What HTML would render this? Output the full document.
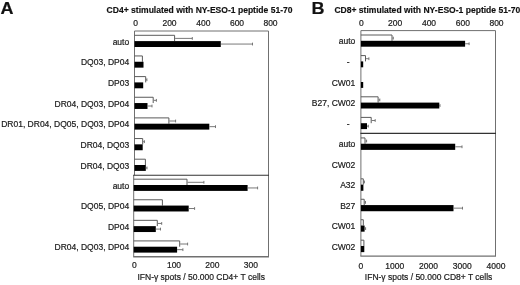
<!DOCTYPE html>
<html><head><meta charset="utf-8"><title>Figure</title>
<style>html,body{margin:0;padding:0;background:#fff}svg{display:block}</style></head>
<body><svg width="520" height="285" viewBox="0 0 520 285" font-family="'Liberation Sans', Arial, sans-serif" font-size="8.5" fill="#1a1a1a">
<rect width="520" height="285" fill="#fff" stroke="none"/>
<g stroke="#1a1a1a" stroke-width="0.2">
<text transform="translate(0.6,13.8) scale(1.06,1)" font-size="17" font-weight="bold" fill="#111">A</text>
<text transform="translate(311.5,13.8) scale(1.06,1)" font-size="17" font-weight="bold" fill="#111">B</text>
<text x="106.6" y="12.9" font-weight="bold" font-size="8.55" stroke="#111" stroke-width="0.15" fill="#111">CD4+ stimulated with NY-ESO-1 peptide 51-70</text>
<text x="334.4" y="12.9" font-weight="bold" font-size="8.55" stroke="#111" stroke-width="0.15" fill="#111">CD8+ stimulated with NY-ESO-1 peptide 51-70</text>
<text x="135.5" y="25.5" text-anchor="middle">0</text>
<text x="169.5" y="25.5" text-anchor="middle">200</text>
<text x="203.3" y="25.5" text-anchor="middle">400</text>
<text x="237.0" y="25.5" text-anchor="middle">600</text>
<text x="270.5" y="25.5" text-anchor="middle">800</text>
<text x="361.3" y="25.5" text-anchor="middle">0</text>
<text x="395.2" y="25.5" text-anchor="middle">200</text>
<text x="429" y="25.5" text-anchor="middle">400</text>
<text x="462.8" y="25.5" text-anchor="middle">600</text>
<text x="496.5" y="25.5" text-anchor="middle">800</text>
<text x="134.4" y="268" text-anchor="middle">0</text>
<text x="174.0" y="268" text-anchor="middle">100</text>
<text x="212.3" y="268" text-anchor="middle">200</text>
<text x="250.9" y="268" text-anchor="middle">300</text>
<text x="360.8" y="269.4" text-anchor="middle">0</text>
<text x="394.8" y="269.4" text-anchor="middle">1000</text>
<text x="428.5" y="269.4" text-anchor="middle">2000</text>
<text x="462.2" y="269.4" text-anchor="middle">3000</text>
<text x="496" y="269.4" text-anchor="middle">4000</text>
<text x="201.2" y="280" text-anchor="middle">IFN-γ spots / 50.000 CD4+ T cells</text>
<text x="428.6" y="280" text-anchor="middle">IFN-γ spots / 50.000 CD8+ T cells</text>
<text x="129.2" y="44.60" text-anchor="end">auto</text>
<text x="129.2" y="65.25" text-anchor="end">DQ03, DP04</text>
<text x="129.2" y="85.90" text-anchor="end">DP03</text>
<text x="129.2" y="106.55" text-anchor="end">DR04, DQ03, DP04</text>
<text x="129.2" y="127.20" text-anchor="end">DR01, DR04, DQ05, DQ03, DP04</text>
<text x="129.2" y="147.85" text-anchor="end">DR04, DQ03</text>
<text x="129.2" y="168.50" text-anchor="end">DR04, DQ03</text>
<text x="129.2" y="188.50" text-anchor="end">auto</text>
<text x="129.2" y="209.07" text-anchor="end">DQ05, DP04</text>
<text x="129.2" y="229.64" text-anchor="end">DP04</text>
<text x="129.2" y="250.21" text-anchor="end">DR04, DQ03, DP04</text>
<text x="355.3" y="44.40" text-anchor="end">auto</text>
<text x="349.7" y="65.00" text-anchor="end">-</text>
<text x="355.3" y="85.60" text-anchor="end">CW01</text>
<text x="355.3" y="106.20" text-anchor="end">B27, CW02</text>
<text x="349.7" y="126.80" text-anchor="end">-</text>
<text x="355.3" y="147.33" text-anchor="end">auto</text>
<text x="355.3" y="167.78" text-anchor="end">CW02</text>
<text x="355.3" y="188.23" text-anchor="end">A32</text>
<text x="355.3" y="208.68" text-anchor="end">B27</text>
<text x="355.3" y="229.13" text-anchor="end">CW01</text>
<text x="355.3" y="249.58" text-anchor="end">CW02</text>
</g>
<g fill="none" stroke="#707070" stroke-width="1">
<path d="M134.5 175.2V31.0H268.5V256.9"/>
<path d="M133.7 175.2V256.7" />
<path d="M133.2 256.7H269.0" stroke-width="1.4"/>
<path d="M360.9 256.1V30.6H495.5V256.1"/>
<path d="M360.4 256.1H496.0" stroke-width="1.1"/>
</g>
<path d="M133.2 175.2H269.0" stroke="#333" stroke-width="1.1"/>
<path d="M360.4 133.4H496.0" stroke="#333" stroke-width="1.1"/>
<path d="M134.5 35.30H174.60V41.10" fill="none" stroke="#5a5a5a" stroke-width="1"/>
<path d="M175.10 38.40H192.30M192.30 37.00V39.80" stroke="#6a6a6a" stroke-width="0.9" fill="none"/>
<rect x="134.5" y="41.10" width="86.30" height="5.90" fill="#000"/>
<path d="M220.80 44.05H252.50M252.50 42.65V45.45" stroke="#6a6a6a" stroke-width="0.9" fill="none"/>
<path d="M134.5 55.95H142.40V61.75" fill="none" stroke="#5a5a5a" stroke-width="1"/>
<rect x="134.5" y="61.75" width="9.00" height="5.90" fill="#000"/>
<path d="M134.5 76.60H145.70V82.40" fill="none" stroke="#5a5a5a" stroke-width="1"/>
<path d="M146.20 79.70H146.90M146.90 78.30V81.10" stroke="#6a6a6a" stroke-width="0.9" fill="none"/>
<rect x="134.5" y="82.40" width="8.70" height="5.90" fill="#000"/>
<path d="M134.5 97.25H153.20V103.05" fill="none" stroke="#5a5a5a" stroke-width="1"/>
<path d="M153.70 100.35H156.40M156.40 98.95V101.75" stroke="#6a6a6a" stroke-width="0.9" fill="none"/>
<rect x="134.5" y="103.05" width="13.00" height="5.90" fill="#000"/>
<path d="M147.50 106.00H152.00M152.00 104.60V107.40" stroke="#6a6a6a" stroke-width="0.9" fill="none"/>
<path d="M134.5 117.90H168.90V123.70" fill="none" stroke="#5a5a5a" stroke-width="1"/>
<path d="M169.40 121.00H175.60M175.60 119.60V122.40" stroke="#6a6a6a" stroke-width="0.9" fill="none"/>
<rect x="134.5" y="123.70" width="74.80" height="5.90" fill="#000"/>
<path d="M209.30 126.65H215.50M215.50 125.25V128.05" stroke="#6a6a6a" stroke-width="0.9" fill="none"/>
<path d="M134.5 138.55H142.70V144.35" fill="none" stroke="#5a5a5a" stroke-width="1"/>
<path d="M143.20 141.65H144.40M144.40 140.25V143.05" stroke="#6a6a6a" stroke-width="0.9" fill="none"/>
<rect x="134.5" y="144.35" width="8.20" height="5.90" fill="#000"/>
<path d="M134.5 159.20H145.40V165.00" fill="none" stroke="#5a5a5a" stroke-width="1"/>
<rect x="134.5" y="165.00" width="11.30" height="5.90" fill="#000"/>
<path d="M145.80 167.95H147.00M147.00 166.55V169.35" stroke="#6a6a6a" stroke-width="0.9" fill="none"/>
<path d="M133.7 179.20H187.00V185.00" fill="none" stroke="#5a5a5a" stroke-width="1"/>
<path d="M187.50 182.30H203.90M203.90 180.90V183.70" stroke="#6a6a6a" stroke-width="0.9" fill="none"/>
<rect x="133.7" y="185.00" width="113.90" height="5.90" fill="#000"/>
<path d="M247.60 187.95H257.60M257.60 186.55V189.35" stroke="#6a6a6a" stroke-width="0.9" fill="none"/>
<path d="M133.7 199.77H162.40V205.57" fill="none" stroke="#5a5a5a" stroke-width="1"/>
<rect x="133.7" y="205.57" width="55.00" height="5.90" fill="#000"/>
<path d="M188.70 208.52H194.60M194.60 207.12V209.92" stroke="#6a6a6a" stroke-width="0.9" fill="none"/>
<path d="M133.7 220.34H157.30V226.14" fill="none" stroke="#5a5a5a" stroke-width="1"/>
<path d="M157.80 223.44H161.70M161.70 222.04V224.84" stroke="#6a6a6a" stroke-width="0.9" fill="none"/>
<rect x="133.7" y="226.14" width="22.10" height="5.90" fill="#000"/>
<path d="M155.80 229.09H160.50M160.50 227.69V230.49" stroke="#6a6a6a" stroke-width="0.9" fill="none"/>
<path d="M133.7 240.91H179.70V246.71" fill="none" stroke="#5a5a5a" stroke-width="1"/>
<path d="M180.20 244.01H187.60M187.60 242.61V245.41" stroke="#6a6a6a" stroke-width="0.9" fill="none"/>
<rect x="133.7" y="246.71" width="43.40" height="5.90" fill="#000"/>
<path d="M177.10 249.66H182.90M182.90 248.26V251.06" stroke="#6a6a6a" stroke-width="0.9" fill="none"/>
<path d="M360.9 35.00H392.00V40.80" fill="none" stroke="#5a5a5a" stroke-width="1"/>
<path d="M392.50 38.10H393.30M393.30 36.70V39.50" stroke="#6a6a6a" stroke-width="0.9" fill="none"/>
<rect x="360.9" y="40.80" width="104.20" height="5.90" fill="#000"/>
<path d="M465.10 43.75H469.10M469.10 42.35V45.15" stroke="#6a6a6a" stroke-width="0.9" fill="none"/>
<path d="M360.9 55.60H365.50V61.40" fill="none" stroke="#5a5a5a" stroke-width="1"/>
<path d="M366.00 58.70H368.90M368.90 57.30V60.10" stroke="#6a6a6a" stroke-width="0.9" fill="none"/>
<rect x="360.9" y="61.40" width="2.30" height="5.90" fill="#000"/>
<rect x="360.9" y="82.00" width="2.30" height="5.90" fill="#000"/>
<path d="M360.9 96.80H378.10V102.60" fill="none" stroke="#5a5a5a" stroke-width="1"/>
<path d="M378.60 99.90H379.80M379.80 98.50V101.30" stroke="#6a6a6a" stroke-width="0.9" fill="none"/>
<rect x="360.9" y="102.60" width="78.40" height="5.90" fill="#000"/>
<path d="M439.30 105.55H440.00M440.00 104.15V106.95" stroke="#6a6a6a" stroke-width="0.9" fill="none"/>
<path d="M360.9 117.40H371.20V123.20" fill="none" stroke="#5a5a5a" stroke-width="1"/>
<path d="M371.70 120.50H375.20M375.20 119.10V121.90" stroke="#6a6a6a" stroke-width="0.9" fill="none"/>
<rect x="360.9" y="123.20" width="6.10" height="5.90" fill="#000"/>
<path d="M367.00 126.15H368.30M368.30 124.75V127.55" stroke="#6a6a6a" stroke-width="0.9" fill="none"/>
<path d="M360.9 137.93H365.00V143.73" fill="none" stroke="#5a5a5a" stroke-width="1"/>
<path d="M365.50 141.03H366.60M366.60 139.62V142.43" stroke="#6a6a6a" stroke-width="0.9" fill="none"/>
<rect x="360.9" y="143.73" width="94.30" height="6.15" fill="#000"/>
<path d="M455.20 146.80H462.00M462.00 145.40V148.20" stroke="#6a6a6a" stroke-width="0.9" fill="none"/>
<path d="M360.9 178.83H363.30V184.63" fill="none" stroke="#5a5a5a" stroke-width="1"/>
<path d="M363.80 181.93H364.40M364.40 180.53V183.33" stroke="#6a6a6a" stroke-width="0.9" fill="none"/>
<rect x="360.9" y="184.63" width="2.50" height="6.15" fill="#000"/>
<path d="M360.9 199.28H364.20V205.08" fill="none" stroke="#5a5a5a" stroke-width="1"/>
<path d="M364.70 202.38H365.50M365.50 200.98V203.78" stroke="#6a6a6a" stroke-width="0.9" fill="none"/>
<rect x="360.9" y="205.08" width="92.60" height="6.15" fill="#000"/>
<path d="M453.50 208.15H462.50M462.50 206.75V209.55" stroke="#6a6a6a" stroke-width="0.9" fill="none"/>
<path d="M360.9 219.73H363.30V225.53" fill="none" stroke="#5a5a5a" stroke-width="1"/>
<rect x="360.9" y="225.53" width="3.70" height="6.15" fill="#000"/>
<path d="M364.60 228.60H365.60M365.60 227.20V230.00" stroke="#6a6a6a" stroke-width="0.9" fill="none"/>
<path d="M360.9 240.18H363.90V245.98" fill="none" stroke="#5a5a5a" stroke-width="1"/>
<rect x="360.9" y="245.98" width="3.40" height="6.15" fill="#000"/>
</svg></body></html>
